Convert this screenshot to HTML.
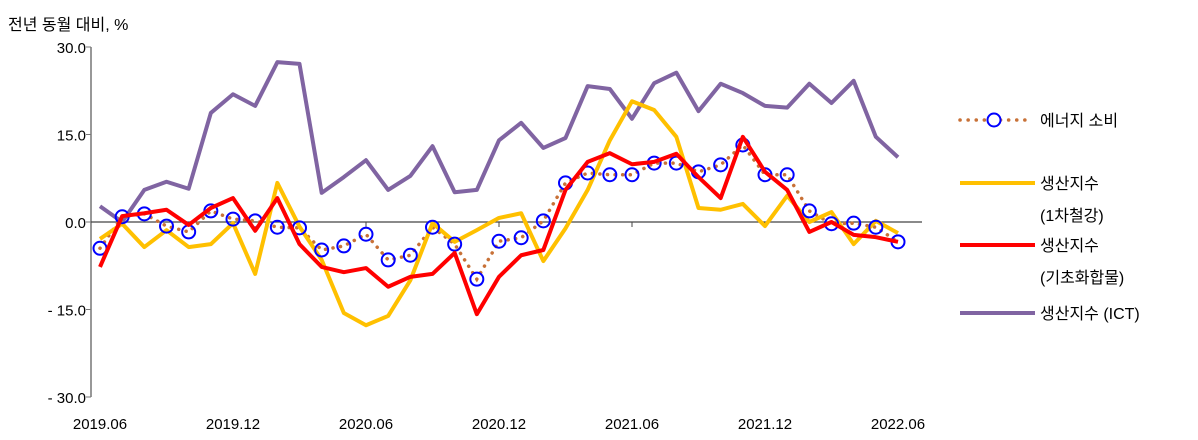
<!DOCTYPE html>
<html><head><meta charset="utf-8"><style>
body{margin:0;background:#fff;}
svg{display:block;font-family:"Liberation Sans","Noto Sans CJK KR",sans-serif;}
</style></head><body>
<svg id="c" width="1198" height="440" viewBox="0 0 1198 440">
<text x="8" y="30" font-size="16" fill="#000">전년 동월 대비, %</text>
<g id="axes"></g><g id="series"></g>
<g font-size="16">
 <g>
  <line x1="960" y1="120" x2="1025" y2="120" stroke="#c87137" stroke-width="3.5" stroke-dasharray="0.1 8" stroke-linecap="round"/>
  <circle cx="994" cy="120" r="6.5" fill="#fff" stroke="#0000ff" stroke-width="2"/>
  <text x="1040" y="126">에너지 소비</text></g>
 <g>
  <line x1="960" y1="183" x2="1035" y2="183" stroke="#ffc000" stroke-width="4"/>
  <text x="1040" y="189">생산지수</text><text x="1040" y="221">(1차철강)</text></g>
 <g>
  <line x1="960" y1="245" x2="1035" y2="245" stroke="#ff0000" stroke-width="4"/>
  <text x="1040" y="251">생산지수</text><text x="1040" y="283">(기초화합물)</text></g>
 <g>
  <line x1="960" y1="313" x2="1035" y2="313" stroke="#8064a2" stroke-width="4"/>
  <text x="1040" y="319">생산지수 (ICT)</text></g>
</g>
</svg>
<script>
const months = 37;
const xLabels = ["2019.06","2019.12","2020.06","2020.12","2021.06","2021.12","2022.06"];
const yTicks = [30,15,0,-15,-30];
const yTickLabels = ["30.0","15.0","0.0","- 15.0","- 30.0"];
const energy = [-4.5,0.9,1.4,-0.7,-1.7,1.9,0.5,0.2,-0.9,-1.0,-4.8,-4.1,-2.1,-6.5,-5.7,-0.9,-3.8,-9.8,-3.3,-2.7,0.2,6.7,8.4,8.1,8.1,10.1,10.1,8.6,9.8,13.2,8.1,8.1,1.9,-0.3,-0.2,-0.9,-3.4];
const steel = [-2.9,-0.3,-4.3,-1.4,-4.3,-3.8,-0.2,-8.9,6.7,-0.8,-6.5,-15.6,-17.7,-16.1,-10.0,-0.2,-3.4,-1.4,0.7,1.5,-6.7,-1.1,5.5,14.0,20.7,19.2,14.6,2.4,2.1,3.1,-0.7,4.5,0.0,1.7,-3.8,0.2,-1.9];
const chemical = [-7.7,1.0,1.5,2.1,-0.5,2.4,4.1,-1.5,4.1,-3.8,-7.7,-8.6,-7.9,-11.1,-9.4,-8.9,-5.3,-15.8,-9.4,-5.7,-4.8,5.5,10.3,11.8,9.9,10.3,11.7,7.7,4.1,14.6,8.6,5.5,-1.7,0.0,-2.2,-2.6,-3.4];
const ict = [2.7,0.0,5.5,6.9,5.7,18.7,21.9,19.9,27.4,27.1,5.0,7.7,10.6,5.5,7.9,13.0,5.1,5.5,14.0,17.0,12.7,14.4,23.3,22.8,17.7,23.8,25.6,19.0,23.7,22.1,19.9,19.6,23.7,20.4,24.2,14.6,11.1];

const NS="http://www.w3.org/2000/svg";
const x0=100,x1=898,yTop=47,yBot=397;
const xs=i=>x0+(x1-x0)*i/(months-1);
const ys=v=>yTop+(30-v)/60*(yBot-yTop);
function mk(tag,attrs,parent){const e=document.createElementNS(NS,tag);for(const k in attrs)e.setAttribute(k,attrs[k]);parent.appendChild(e);return e;}
const axes=document.getElementById('axes'),ser=document.getElementById('series');
let yl=mk('line',{x1:91,y1:yTop,x2:91,y2:yBot,stroke:'#777','stroke-width':1.5},axes);


yTicks.forEach((t,i)=>{
 const tk=mk('line',{x1:86,y1:ys(t),x2:91,y2:ys(t),stroke:'#777'},axes);
 
 
 const tx=mk('text',{x:86,y:ys(t)+6,'text-anchor':'end','font-size':15},axes);
 tx.textContent=yTickLabels[i];
 
 
});
let zl=mk('line',{x1:91,y1:ys(0),x2:922,y2:ys(0),stroke:'#444','stroke-width':1.2},axes);


xLabels.forEach((l,i)=>{
 const x=xs(i*6);
 if(i>0&&i<xLabels.length-1){const tk=mk('line',{x1:x,y1:ys(0),x2:x,y2:ys(0)+5,stroke:'#444'},axes);
 
 }
 const tx=mk('text',{x:x,y:429,'text-anchor':'middle','font-size':15},axes);
 tx.textContent=l;
 
 
});
function pts(a){return a.map((v,i)=>xs(i)+','+ys(v)).join(' ');}
let p=mk('polyline',{points:pts(ict),fill:'none',stroke:'#8064a2','stroke-width':4,'stroke-linejoin':'round'},ser);


p=mk('polyline',{points:pts(energy),fill:'none',stroke:'#c87137','stroke-width':3.5,'stroke-dasharray':'0.1 7.5','stroke-linecap':'round'},ser);


p=mk('polyline',{points:pts(steel),fill:'none',stroke:'#ffc000','stroke-width':4,'stroke-linejoin':'round'},ser);


energy.forEach((v,i)=>{
 const c=mk('circle',{cx:xs(i),cy:ys(v),r:6.5,fill:'none',stroke:'#0000ff','stroke-width':2},ser);
 
 
});
p=mk('polyline',{points:pts(chemical),fill:'none',stroke:'#ff0000','stroke-width':4,'stroke-linejoin':'round'},ser);


</script>
</body></html>
